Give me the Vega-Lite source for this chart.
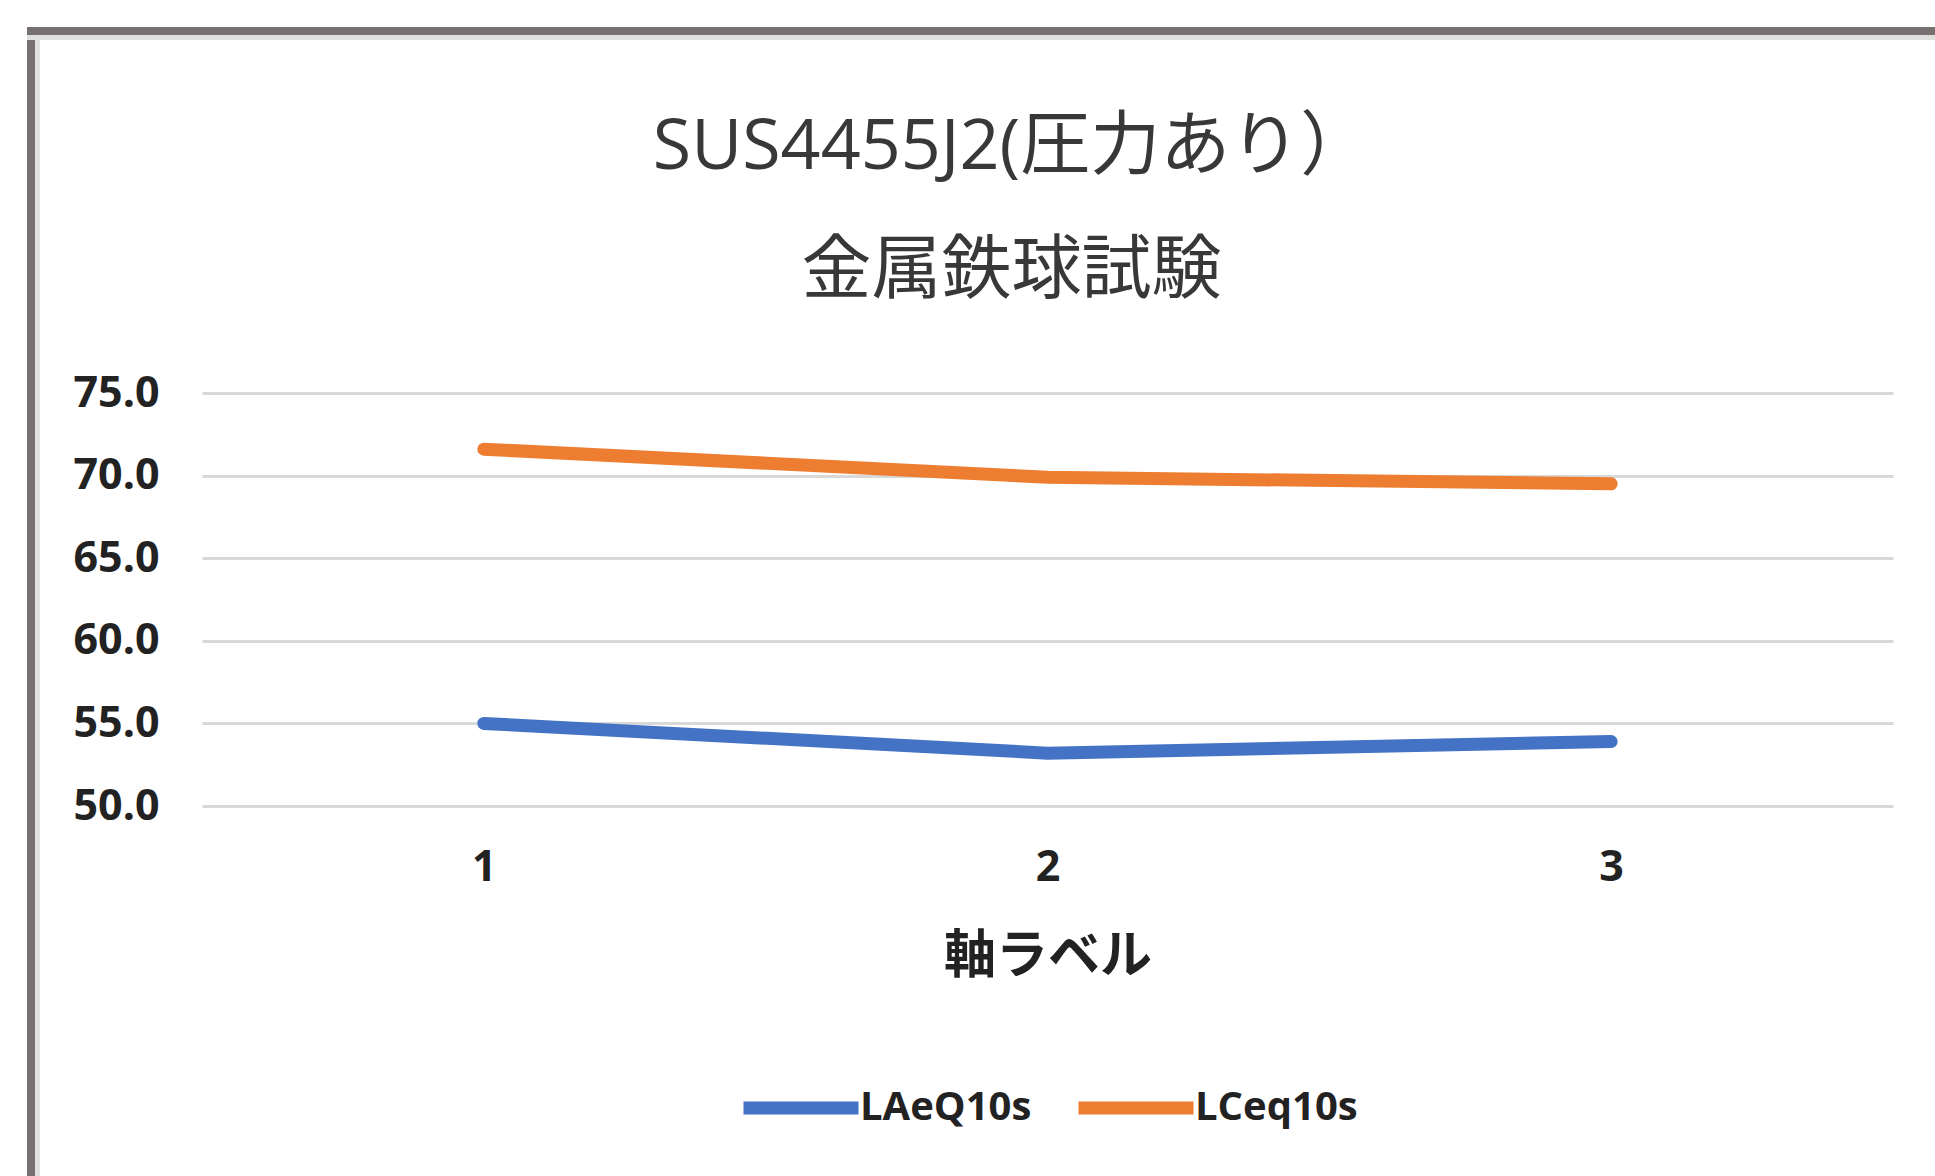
{
  "$schema": "https://vega.github.io/schema/vega-lite/v6.json",
  "padding": {"left": 27, "top": 27, "right": 0, "bottom": 0},
  "background": "white",
  "spacing": 0,
  "align": "none",
  "resolve": {"scale": {"color": "independent"}},
  "vconcat": [
    {
      "width": 1908,
      "height": 8,
      "view": {"fill": "#767170", "stroke": null},
      "data": {"values": []},
      "mark": "point"
    },
    {
      "width": 1908,
      "height": 5,
      "view": {"fill": "#e0e0e0", "stroke": null},
      "data": {"values": []},
      "mark": "point"
    },
    {
      "spacing": 32,
      "align": "none",
      "resolve": {"scale": {"color": "independent"}},
      "hconcat": [
        {
          "spacing": 0,
          "align": "none",
          "hconcat": [
            {
              "width": 8,
              "height": 1150,
              "view": {"fill": "#767170", "stroke": null},
              "data": {"values": []},
              "mark": "point"
            },
            {
              "width": 5,
              "height": 1150,
              "view": {"fill": "#e0e0e0", "stroke": null},
              "data": {"values": []},
              "mark": "point"
            }
          ]
        },
        {
          "spacing": 0,
          "align": "none",
          "resolve": {"scale": {"color": "independent"}},
          "vconcat": [
            {
              "width": 10,
              "height": 73,
              "view": {"stroke": null},
              "data": {"values": []},
              "mark": "point"
            },
            {
              "width": 1691,
              "height": 413,
              "title": {
                "text": ["SUS4455J2(圧力あり）", "金属鉄球試験"],
                "fontSize": 70,
                "lineHeight": 124,
                "font": "Open Sans, Noto Sans CJK JP",
                "fontWeight": "normal",
                "color": "#383838",
                "offset": 64,
                "dx": -36,
                "anchor": "middle"
              },
              "data": {
                "values": [
                  {"n": 1, "series": "LAeQ10s", "v": 55.0},
                  {"n": 2, "series": "LAeQ10s", "v": 53.2},
                  {"n": 3, "series": "LAeQ10s", "v": 53.9},
                  {"n": 1, "series": "LCeq10s", "v": 71.6},
                  {"n": 2, "series": "LCeq10s", "v": 69.9},
                  {"n": 3, "series": "LCeq10s", "v": 69.5}
                ]
              },
              "mark": {"type": "line", "strokeWidth": 13, "strokeCap": "round", "strokeJoin": "round"},
              "encoding": {
                "x": {
                  "field": "n",
                  "type": "ordinal",
                  "axis": {
                    "title": "軸ラベル",
                    "labelAngle": 0,
                    "domain": false,
                    "ticks": false,
                    "labelPadding": 40,
                    "labelFontSize": 43,
                    "labelFont": "Open Sans",
                    "labelFontWeight": "bold",
                    "labelColor": "#222222",
                    "titleFontSize": 52,
                    "titleFont": "Noto Sans CJK JP",
                    "titleFontWeight": "bold",
                    "titleColor": "#222222",
                    "titlePadding": 42
                  }
                },
                "y": {
                  "field": "v",
                  "type": "quantitative",
                  "scale": {"domain": [50, 75], "nice": false, "zero": false},
                  "axis": {
                    "title": null,
                    "values": [50, 55, 60, 65, 70, 75],
                    "format": ".1f",
                    "domain": false,
                    "ticks": false,
                    "labelPadding": 43,
                    "labelFontSize": 43,
                    "labelFont": "Open Sans",
                    "labelFontWeight": "bold",
                    "labelColor": "#222222",
                    "gridColor": "#d9d9d9",
                    "gridWidth": 3
                  }
                },
                "color": {
                  "field": "series",
                  "type": "nominal",
                  "scale": {"domain": ["LAeQ10s", "LCeq10s"], "range": ["#4472C4", "#ED7D31"]},
                  "legend": {
                    "title": null,
                    "orient": "bottom",
                    "direction": "horizontal",
                    "symbolType": "stroke",
                    "symbolSize": 13225,
                    "symbolStrokeWidth": 13,
                    "labelFontSize": 40,
                    "labelFont": "Open Sans",
                    "labelFontWeight": "bold",
                    "labelColor": "#222222",
                    "labelLimit": 0,
                    "columnPadding": 20,
                    "labelOffset": -5,
                    "offset": 62
                  }
                }
              }
            }
          ]
        }
      ]
    }
  ],
  "config": {
    "view": {"stroke": null},
    "legend": {"layout": {"bottom": {"anchor": "middle"}}}
  }
}
